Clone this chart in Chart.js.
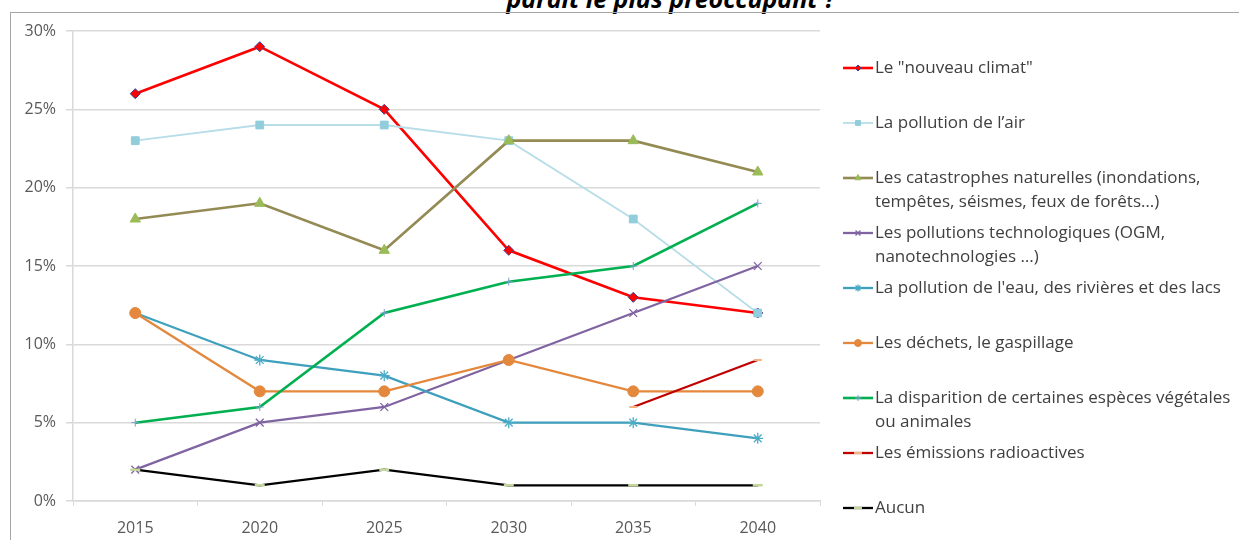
<!DOCTYPE html>
<html>
<head>
<meta charset="utf-8">
<script src="https://cdn.jsdelivr.net/npm/chart.js@4/dist/chart.umd.min.js"></script>
<style>
  html, body { margin: 0; padding: 0; background: #fff; overflow: hidden; }
  body { width: 1239px; height: 540px; position: relative; }
  #frame { position: absolute; left: 10px; top: 12px; width: 1260px; height: 560px; border: 1.5px solid #a6a6a6; box-sizing: border-box; }
  #title { position: absolute; left: 0; width: 1342px; top: -19px; line-height: 25px; text-align: center; font: italic bold 25px "Open Sans", Lato, sans-serif; color: #000; white-space: nowrap; }
  #wrap { position: absolute; left: 0; top: 0; width: 1239px; height: 540px; }
</style>
</head>
<body>
<div id="title">paraît le plus préoccupant ?</div>
<div id="frame"></div>
<div id="wrap"><canvas id="c" width="1239" height="540"></canvas></div>
<script>
const categories = ['2015', '2020', '2025', '2030', '2035', '2040'];
const yTicks = [0, 5, 10, 15, 20, 25, 30];

const nouveauClimat = [26, 29, 25, 16, 13, 12];
const pollutionAir = [23, 24, 24, 23, 18, 12];
const catastrophes = [18, 19, 16, 23, 23, 21];
const pollutionsTechno = [2, 5, 6, 9, 12, 15];
const pollutionEau = [12, 9, 8, 5, 5, 4];
const dechets = [12, 7, 7, 9, 7, 7];
const disparition = [5, 6, 12, 14, 15, 19];
const radioactives = [null, null, null, null, 6, 9];
const aucun = [2, 1, 2, 1, 1, 1];

const labels = [
  ['Le "nouveau climat"'],
  ['La pollution de l\u2019air'],
  ['Les catastrophes naturelles (inondations,', 'tempêtes, séismes, feux de forêts…)'],
  ['Les pollutions technologiques (OGM,', 'nanotechnologies …)'],
  ['La pollution de l\'eau, des rivières et des lacs'],
  ['Les déchets, le gaspillage'],
  ['La disparition de certaines espèces végétales', 'ou animales'],
  ['Les émissions radioactives'],
  ['Aucun']
];

const seriesData = [nouveauClimat, pollutionAir, catastrophes, pollutionsTechno, pollutionEau, dechets, disparition, radioactives, aucun];

const styles = [
  { line: '#ff0000', w: 2.6, ps: 'rectRot', r: 5, fill: '#ff0000', edge: '#3b3f8f', bw: 1, lr: 3 },
  { line: '#b7dee8', w: 1.8, ps: 'rect', r: 5.5, fill: '#92cddc', edge: '#92cddc', bw: 1, lr: 3.5 },
  { line: '#948a54', w: 2.6, ps: 'triangle', r: 6, fill: '#9bbb59', edge: '#9bbb59', bw: 1, lr: 3.5 },
  { line: '#8064a2', w: 2.3, ps: 'crossRot', r: 5.5, fill: '#8064a2', edge: '#8064a2', bw: 1.3, lr: 3.5 },
  { line: '#3fa0bd', w: 2.3, ps: 'star', r: 5.5, fill: '#4bacc6', edge: '#4bacc6', bw: 1.3, lr: 3.5 },
  { line: '#e3883c', w: 2.3, ps: 'circle', r: 5.5, fill: '#e3883c', edge: '#e3883c', bw: 1, lr: 3.5 },
  { line: '#00b050', w: 2.6, ps: 'cross', r: 4, fill: '#7f9fd0', edge: '#7f9fd0', bw: 1, lr: 3 },
  { line: '#c00000', w: 2.3, ps: 'line', r: 4, fill: '#f4b183', edge: '#f4b183', bw: 2, lr: 4 },
  { line: '#000000', w: 2.3, ps: 'line', r: 5, fill: '#c3d69b', edge: '#c3d69b', bw: 2.5, lr: 4 }
];

const datasets = seriesData.map((d, i) => ({
  label: labels[i].join(' '),
  data: d,
  borderColor: styles[i].line,
  borderWidth: styles[i].w,
  backgroundColor: styles[i].fill,
  pointStyle: styles[i].ps,
  pointRadius: styles[i].r,
  pointHoverRadius: styles[i].r,
  pointBackgroundColor: styles[i].fill,
  pointBorderColor: styles[i].edge,
  pointBorderWidth: styles[i].bw,
  tension: 0,
  spanGaps: false,
  order: 20 - i
}));

const FONT = '"Open Sans", Lato, "Liberation Sans", sans-serif';

const legendPlugin = {
  id: 'sideLegend',
  afterDraw(chart) {
    const ctx = chart.ctx;
    const x0 = 843, x1 = 873, tx = 875;
    const y0 = 68, step = 55;
    labels.forEach((lab, i) => {
      const s = styles[i];
      const y = y0 + step * i;
      ctx.save();
      ctx.lineCap = 'butt';
      ctx.strokeStyle = s.line;
      ctx.lineWidth = s.w;
      ctx.beginPath();
      ctx.moveTo(x0, y);
      ctx.lineTo(x1, y);
      ctx.stroke();
      ctx.fillStyle = s.fill; ctx.strokeStyle = s.edge; ctx.lineWidth = s.bw;
      Chart.helpers.drawPoint(ctx, { pointStyle: s.ps, radius: s.lr, rotation: 0, borderWidth: s.bw }, (x0 + x1) / 2, y);
      ctx.font = '17px ' + FONT;
      ctx.textBaseline = 'middle';
      ctx.textAlign = 'left';
      ctx.fillStyle = '#404040';
      lab.forEach((t, k) => ctx.fillText(t, tx, y + k * 24.5));
      ctx.restore();
    });
  }
};

new Chart(document.getElementById('c'), {
  type: 'line',
  data: { labels: categories, datasets },
  plugins: [legendPlugin],
  options: {
    responsive: false,
    animation: false,
    events: [],
    layout: { padding: { left: 0, right: 419, top: 31, bottom: 0 } },
    plugins: { legend: { display: false }, tooltip: { enabled: false }, title: { display: false } },
    scales: {
      x: {
        type: 'category',
        offset: true,
        grid: { offset: true, drawOnChartArea: false, drawTicks: true, tickLength: 5, color: '#d9d9d9', lineWidth: 1 },
        border: { display: true, color: '#d9d9d9', width: 1.5 },
        ticks: { color: '#595959', font: { family: FONT, size: 16 }, padding: 13, maxRotation: 0 },
        afterFit(scale) { scale.height = 39; }
      },
      y: {
        min: 0, max: 30,
        afterBuildTicks(scale) { scale.ticks = yTicks.map(v => ({ value: v })); },
        grid: { color: '#d9d9d9', lineWidth: 1.5, tickLength: 7 },
        border: { display: true, color: '#d9d9d9', width: 1.5 },
        ticks: { color: '#595959', font: { family: FONT, size: 16 }, padding: 10, callback: v => v + '%' },
        afterFit(scale) { scale.width = 73; }
      }
    }
  }
});
</script>
</body>
</html>
